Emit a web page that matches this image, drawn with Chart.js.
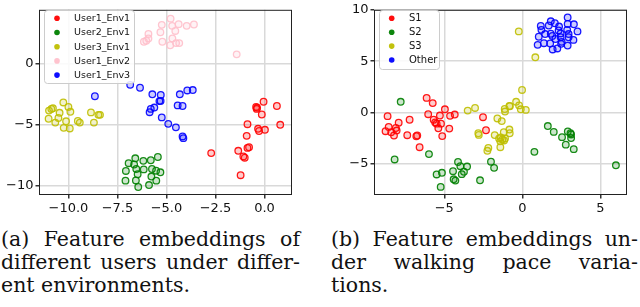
<!DOCTYPE html>
<html>
<head>
<meta charset="utf-8">
<script src="https://cdn.jsdelivr.net/npm/chart.js@4.4.1/dist/chart.umd.min.js"></script>
<style>
    body { margin: 0; width: 640px; height: 307px; background: #fff; position: relative; overflow: hidden; }
    canvas { position: absolute; top: 0; }
    #left { left: 0; }
    #right { left: 320px; }
    .cap { position: absolute; font-family: "DejaVu Serif", serif; font-size: 20.5px; line-height: 23px; color: #111; }
    .cap div { text-align: justify; text-align-last: justify; white-space: nowrap; }
    .cap div.last { text-align-last: left; }
    #capA { left: 1px; top: 228px; width: 299px; }
    #capB { left: 331px; top: 228px; width: 307px; }
</style>
</head>
<body>
<canvas id="left" width="320" height="215"></canvas>
<canvas id="right" width="320" height="215"></canvas>
<div class="cap" id="capA">
    <div>(a) Feature embeddings of</div>
    <div>different users under differ-</div>
    <div class="last">ent environments.</div>
</div>
<div class="cap" id="capB">
    <div>(b) Feature embeddings un-</div>
    <div>der walking pace varia-</div>
    <div class="last">tions.</div>
</div>
<script>
// --- (a) users / environments ---
const user1Env1 = [[-0.43,-3.55],[-0.40,-3.71],[-0.05,-3.12],[-0.14,-4.17],[0.63,-3.47],[-0.87,-4.97],
    [0.80,-5.02],[-0.33,-5.35],[-0.28,-5.53],[0.02,-5.43],[-0.91,-5.93],[-0.79,-6.87],[-0.87,-6.92],
    [-1.34,-7.16],[-1.08,-7.62],[-1.01,-7.73],[-2.72,-7.35],[-1.22,-9.17],[-0.38,-3.62]]
const user2Env1 = [[-6.93,-8.18],[-6.59,-7.78],[-6.18,-7.99],[-5.80,-7.94],[-5.44,-7.67],[-7.07,-8.82],
    [-6.65,-8.29],[-6.54,-8.66],[-6.16,-8.69],[-5.74,-8.66],[-5.53,-8.80],[-5.31,-8.93],[-6.47,-9.09],
    [-5.77,-9.28],[-5.52,-9.62],[-6.56,-9.60],[-7.09,-9.62],[-5.89,-9.98],[-6.44,-10.14]]
const user3Env1 = [[-10.87,-3.72],[-10.79,-3.66],[-10.99,-3.85],[-11.01,-4.52],[-10.67,-4.84],[-10.51,-4.46],
    [-10.45,-4.03],[-10.26,-3.18],[-10.00,-3.55],[-9.90,-3.95],[-10.12,-4.73],[-10.24,-5.27],[-9.93,-5.32],
    [-9.52,-4.70],[-9.42,-4.84],[-8.85,-4.00],[-8.47,-4.20],[-8.39,-4.20],[-8.70,-4.84]]
const user1Env2 = [[-4.79,3.72],[-5.24,3.21],[-4.71,3.13],[-4.38,3.27],[-3.97,3.13],[-3.60,3.24],[-4.55,2.71],
    [-5.31,2.60],[-5.92,2.46],[-5.92,2.09],[-6.03,1.90],[-6.15,1.82],[-5.21,1.82],[-4.70,2.09],[-4.51,1.71],
    [-4.35,1.71],[-4.81,1.53],[-1.42,0.78]]
const user1Env3 = [[-6.85,-1.73],[-6.35,-1.97],[-5.72,-2.51],[-5.29,-2.56],[-5.36,-3.07],[-4.32,-2.51],
    [-3.94,-2.19],[-3.66,-2.16],[-4.43,-3.42],[-4.18,-3.47],[-5.62,-3.60],[-5.80,-3.71],[-5.86,-3.98],
    [-5.24,-4.41],[-4.91,-4.94],[-4.52,-5.23],[-4.18,-5.98],[-4.14,-6.12],[-8.65,-2.67],[-5.30,-3.05]]
const namesA = ["User1_Env1", "User2_Env1", "User3_Env1", "User1_Env2", "User1_Env3"]
const ticksAx = [-10, -7.5, -5, -2.5, 0]
const ticksAy = [-10, -5, 0]

// --- (b) walking pace ---
const s1 = [[-6.13,1.43],[-5.74,0.92],[-4.96,0.32],[-8.63,-0.35],[-7.92,-0.98],[-7.22,-0.70],[-6.03,-0.16],
    [-5.68,-0.70],[-5.58,-0.96],[-5.28,-0.29],[-4.63,-0.32],[-4.33,-0.19],[-8.56,-1.40],[-8.10,-1.50],
    [-8.05,-1.75],[-8.76,-1.81],[-8.40,-1.91],[-8.22,-2.23],[-7.37,-2.20],[-6.79,-2.30],[-6.73,-2.23],
    [-5.49,-1.08],[-5.38,-1.53],[-5.21,-1.08],[-5.13,-2.29],[-4.68,-1.56],[-6.58,-3.37],[-2.52,-0.45],
    [-2.33,-1.72]]
const s2 = [[-7.79,1.05],[-8.18,-4.56],[-5.98,-4.04],[-5.49,-6.02],[-5.15,-5.86],[-5.23,-7.23],[-4.44,-5.70],
    [-4.40,-6.49],[-4.29,-6.62],[-4.12,-4.81],[-3.97,-5.22],[-3.88,-5.99],[-3.74,-5.76],[-3.54,-5.25],
    [-2.71,-6.59],[-2.01,-4.78],[-1.81,-5.38],[1.63,-1.31],[2.01,-1.88],[2.54,-2.39],[2.91,-1.84],
    [3.08,-2.01],[3.12,-2.13],[3.12,-2.48],[2.78,-3.12],[3.29,-3.56],[0.77,-3.82],[5.99,-5.13]]
const s3 = [[-0.23,7.90],[0.83,5.38],[-0.02,2.20],[-0.40,1.05],[-0.21,0.70],[-0.83,0.64],[-0.80,0.62],
    [-1.13,0.35],[-1.11,0.10],[-0.10,0.32],[0.22,0.26],[-3.50,0.19],[-3.03,0.45],[-1.60,-0.57],
    [-1.32,-0.83],[-2.82,-2.01],[-2.79,-2.17],[-1.77,-2.19],[-1.19,-1.91],[-0.83,-1.65],[-0.81,-2.01],
    [-1.49,-2.52],[-1.38,-2.42],[-1.28,-2.61],[-1.17,-2.71],[-1.41,-2.80],[-1.11,-2.52],[-1.41,-3.37],
    [-2.18,-3.44],[-2.24,-3.72]]
const other = [[2.90,9.26],[1.82,8.88],[2.08,8.69],[1.69,8.47],[1.18,8.43],[2.35,8.37],[2.90,8.62],[3.30,8.59],
    [1.22,8.05],[2.87,8.05],[3.53,7.90],[1.46,7.64],[1.82,7.67],[1.92,7.45],[2.45,7.70],[2.96,7.64],
    [2.32,7.99],[1.05,7.38],[2.12,7.16],[2.45,7.33],[2.96,7.33],[3.27,7.07],[0.98,6.59],[1.38,6.75],
    [1.78,6.72],[2.48,6.69],[2.90,6.52],[1.94,6.14],[2.24,6.24],[2.52,6.88]]
const namesB = ["S1", "S2", "S3", "Other"]
const ticksBx = [-5, 0, 5]
const ticksBy = [-5, 0, 5, 10]

const COLORS = {
    red: [255, 0, 0],
    green: [0, 128, 0],
    yellow: [191, 191, 0],
    pink: [255, 192, 203],
    blue: [0, 0, 255],
}

function rgba(c, a) {
    return "rgba(" + c[0] + "," + c[1] + "," + c[2] + "," + a + ")"
}

function series(name, pts, col) {
    return {
        label: name,
        data: pts.map(p => ({ x: p[0], y: p[1] })),
        pointRadius: 3.3,
        pointHoverRadius: 3.3,
        borderWidth: 1.3,
        borderColor: rgba(col, 0.9),
        backgroundColor: rgba(col, 0.2),
        legendColor: rgba(col, 0.95),
    }
}

function fmt(v) {
    return String(v).replace("-", "\u2212")
}

// frame around the plot + legend box inside the plot
const framePlugin = {
    id: "frame",
    afterDraw(chart, args, opts) {
        const ctx = chart.ctx
        const a = chart.chartArea
        ctx.save()
        ctx.strokeStyle = "#222"
        ctx.lineWidth = 1
        ctx.strokeRect(a.left + 0.5, a.top + 0.5, a.right - a.left - 1, a.bottom - a.top - 1)

        // legend
        const L = opts.legend
        ctx.fillStyle = "rgba(255,255,255,0.85)"
        ctx.strokeStyle = "#cccccc"
        ctx.beginPath()
        ctx.roundRect(L.x + 0.5, L.y + 0.5, L.w, L.h, 3)
        ctx.fill()
        ctx.stroke()
        ctx.font = L.font
        ctx.textBaseline = "middle"
        chart.data.datasets.forEach((ds, i) => {
            const y = L.y + L.first + i * L.step
            ctx.fillStyle = ds.legendColor
            ctx.beginPath()
            ctx.arc(L.x + L.mark, y, 2.8, 0, Math.PI * 2)
            ctx.fill()
            ctx.fillStyle = "#111"
            ctx.fillText(ds.label, L.x + L.text, y + 0.5)
        })
        ctx.restore()
    },
}

function axis(min, max, tickVals, isX, size, dec) {
    return {
        type: "linear",
        min: min,
        max: max,
        afterBuildTicks: s => { s.ticks = tickVals.map(v => ({ value: v })) },
        afterFit: s => { if (isX) s.height = size; else s.width = size },
        border: { display: false },
        grid: {
            color: "#d9d9d9",
            lineWidth: 1.5,
            tickColor: "#333",
            tickLength: 3.5,
        },
        ticks: {
            color: "#111",
            padding: 2,
            font: { family: "DejaVu Sans", size: 13 },
            callback: v => fmt(dec ? v.toFixed(1) : v),
        },
    }
}

function makeChart(id, sets, xr, yr, xt, yt, yw, pad, legend, dec) {
    new Chart(document.getElementById(id), {
        type: "scatter",
        data: { datasets: sets },
        options: {
            responsive: false,
            animation: false,
            layout: { autoPadding: false, padding: pad },
            scales: {
                x: axis(xr[0], xr[1], xt, true, 20, dec),
                y: axis(yr[0], yr[1], yt, false, yw, false),
            },
            plugins: {
                legend: { display: false },
                tooltip: { enabled: false },
                frame: { legend: legend },
            },
        },
        plugins: [framePlugin],
    })
}

function main() {
    makeChart("left", [
        series(namesA[0], user1Env1, COLORS.red),
        series(namesA[1], user2Env1, COLORS.green),
        series(namesA[2], user3Env1, COLORS.yellow),
        series(namesA[3], user1Env2, COLORS.pink),
        series(namesA[4], user1Env3, COLORS.blue),
    ], [-11.5, 1.4], [-10.8, 4.45], ticksAx, ticksAy, 39,
        { left: 0, right: 28, top: 5, bottom: 0 },
        { x: 44, y: 10, w: 90, h: 73, first: 8.3, step: 14.2, mark: 13, text: 30, font: "9.5px 'DejaVu Sans'" },
        true)

    makeChart("right", [
        series(namesB[0], s1, COLORS.red),
        series(namesB[1], s2, COLORS.green),
        series(namesB[2], s3, COLORS.yellow),
        series(namesB[3], other, COLORS.blue),
    ], [-9.5, 6.7], [-8.02, 10], ticksBx, ticksBy, 54,
        { left: 0, right: 13, top: 6, bottom: 0 },
        { x: 59, y: 10, w: 60, h: 59, first: 8.3, step: 13.9, mark: 12.7, text: 30, font: "10px 'DejaVu Sans'" },
        false)
}

document.addEventListener("DOMContentLoaded", main)
</script>
</body>
</html>
